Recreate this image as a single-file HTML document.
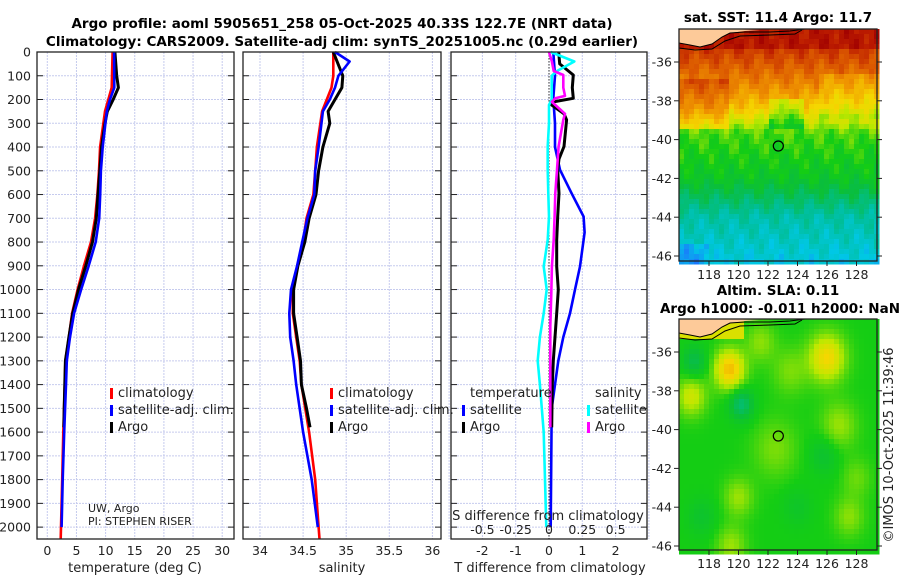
<!DOCTYPE html>
<html><head><meta charset="utf-8"><style>
html,body{margin:0;padding:0;background:#fff;}
svg{display:block;font-family:"DejaVu Sans","Liberation Sans",sans-serif;}
</style></head><body>
<svg id="fig" width="900" height="580" viewBox="0 0 900 580" xmlns="http://www.w3.org/2000/svg">
<g id="titles" font-weight="bold" font-size="13.5" text-anchor="middle">
<text x="342" y="28">Argo profile: aoml 5905651_258 05-Oct-2025 40.33S 122.7E (NRT data)</text>
<text x="342" y="46">Climatology: CARS2009. Satellite-adj clim: synTS_20251005.nc (0.29d earlier)</text>
<text x="778" y="22">sat. SST: 11.4 Argo: 11.7</text>
<text x="778" y="295">Altim. SLA: 0.11</text>
<text x="780" y="313">Argo h1000: -0.011 h2000: NaN</text>
</g>
<g id="grids"></g>
<g id="maps"></g>
<g id="series"></g>
<g id="frames"></g>
<g id="labels" font-size="12.5" fill="#222"></g>
<g font-size="13" fill="#222" text-anchor="middle">
<text x="135" y="572">temperature (deg C)</text>
<text x="342" y="572">salinity</text>
<text x="550" y="572">T difference from climatology</text>
<text x="548" y="520">S difference from climatology</text>
</g>
<g font-size="11" fill="#222">
<text x="88" y="512">UW, Argo</text>
<text x="88" y="525">PI: STEPHEN RISER</text>
</g>
<text transform="translate(893,445) rotate(-90)" text-anchor="middle" font-size="13" fill="#222">©IMOS 10-Oct-2025 11:39:46</text>
</svg>
<script>
// ---------- data ----------
const depthTicks = [0,100,200,300,400,500,600,700,800,900,1000,1100,1200,1300,1400,1500,1600,1700,1800,1900,2000];
const tempTicks = [0,5,10,15,20,25,30];
const salTicks = [34,34.5,35,35.5,36];
const salTickLabels = ["34","34.5","35","35.5","36"];
const tdiffTicks = [-2,-1,0,1,2];
const sdiffTicks = [-0.5,-0.25,0,0.25,0.5];
const sdiffTickLabels = ["-0.5","-0.25","0","0.25","0.5"];

const climDepth = [0,100,150,250,400,500,600,700,800,900,1000,1100,1200,1300,1400,1600,1800,2000,2050];
const climTemp  = [11.2,11.1,11.05,9.9,9.05,8.87,8.6,8.2,7.5,6.3,5.2,4.25,3.7,3.1,3.0,2.75,2.55,2.35,2.3];
const satTDepth = [0,150,200,250,400,500,600,700,800,900,1000,1100,1200,1300,1400,1600,1800,2000];
const satTemp   = [11.45,11.5,10.75,10.2,9.5,9.2,9.07,8.9,8.3,7.1,5.8,4.6,3.9,3.35,3.2,2.9,2.65,2.45];
const argoTDepth = [0,100,150,200,250,300,400,500,600,700,800,900,1000,1100,1200,1300,1400,1500,1580];
const argoTemp   = [11.6,11.9,12.2,11.3,10.3,9.9,9.3,9.0,8.7,8.4,7.75,6.6,5.35,4.35,3.7,3.1,3.0,2.9,2.85];

const climSDepth = [0,100,150,250,400,500,600,700,800,900,1000,1100,1200,1300,1400,1600,1800,2000,2050];
const climSal    = [34.85,34.85,34.83,34.72,34.66,34.64,34.62,34.54,34.5,34.44,34.38,34.38,34.42,34.46,34.48,34.57,34.64,34.68,34.69];
const satSDepth  = [0,40,100,150,200,250,400,500,600,700,800,900,1000,1100,1200,1300,1400,1600,1800,2000];
const satSal     = [34.87,35.04,34.91,34.87,34.81,34.73,34.68,34.64,34.63,34.55,34.49,34.43,34.36,34.34,34.35,34.39,34.42,34.5,34.6,34.67];
const argoSDepth = [0,100,150,200,250,300,400,500,600,700,800,900,1000,1100,1200,1300,1400,1500,1580];
const argoSal    = [34.85,34.96,34.95,34.87,34.79,34.81,34.73,34.68,34.65,34.57,34.52,34.44,34.39,34.39,34.43,34.47,34.48,34.54,34.58];

const satTdDepth = [0,100,195,300,400,496,595,693,760,903,1000,1100,1200,1300,1400,1500,2000];
const satTdiff   = [0.13,0.18,0.13,0.18,0.18,0.33,0.68,1.04,1.07,0.93,0.78,0.63,0.43,0.28,0.18,0.08,0.05];
const argoTdDepth = [0,50,97,150,195,210,223,260,286,398,450,496,595,693,791,903,1000,1100,1200,1300,1400,1580];
const argoTdiff   = [0.29,0.32,0.73,0.7,0.73,0.13,0.08,0.45,0.53,0.45,0.3,0.26,0.3,0.26,0.23,0.23,0.28,0.23,0.18,0.13,0.1,0.08];
const satSdDepth = [0,40,80,100,200,223,300,398,496,595,693,791,903,1000,1100,1200,1300,1400,1600,2000];
const satSdiff   = [0.012,0.19,0.06,0.02,0.02,0,0,-0.01,-0.01,-0.005,0,-0.01,-0.04,-0.017,-0.04,-0.068,-0.085,-0.068,-0.04,-0.02];
const argoSdDepth = [0,40,80,97,150,185,195,210,223,260,286,398,496,595,693,791,903,1015,1156,1300,1580];
const argoSdiff   = [0,0.022,0.035,0.107,0.107,0.12,0.047,0.022,0.047,0.12,0.107,0.072,0.06,0.047,0.042,0.035,0.022,0.017,0.01,0.01,0.01];

const argoLat = -40.33, argoLon = 122.7;
const mapLonTicks = [118,120,122,124,126,128];
const mapLatTicks = [-36,-38,-40,-42,-44,-46];

// ---------- axes ----------
const TOP=52, BOT=539;
const yD = d => TOP + d*(BOT-TOP)/2050;
const xT = t => 47.3 + t*5.83;
const xS = s => 260 + (s-34)*86.2;
const xTd = t => 549 + t*33.3;
const xSd = s => 549 + s*133.2;
const panels = [{x0:37,x1:234,name:'temperature'},{x0:243,x1:441,name:'salinity'},{x0:451,x1:647,name:'difference'}];

const NS='http://www.w3.org/2000/svg';
function mk(tag, parent, attrs){const e=document.createElementNS(NS,tag);for(const k in attrs)e.setAttribute(k,attrs[k]);parent.appendChild(e);return e;}
const grids=document.getElementById('grids'), series=document.getElementById('series'), frames=document.getElementById('frames'), labels=document.getElementById('labels'), maps=document.getElementById('maps');

panels.forEach(p=>{
  depthTicks.forEach(d=>{
    const l=mk('line',grids,{x1:p.x0,x2:p.x1,y1:yD(d),y2:yD(d),stroke:'#c6cbee','stroke-width':1,'stroke-dasharray':'2,1'});
    
    
  });
});
function vgrid(xs){xs.forEach(x=>{const l=mk('line',grids,{x1:x,x2:x,y1:TOP,y2:BOT,stroke:'#c6cbee','stroke-width':1,'stroke-dasharray':'2,1'});
  
  });}
vgrid(tempTicks.map(xT));
vgrid(salTicks.map(xS));
vgrid([-0.75,-0.5,-0.25,0,0.25,0.5,0.75].map(xSd));

panels.forEach(p=>{
  const r=mk('rect',frames,{x:p.x0,y:TOP,width:p.x1-p.x0,height:BOT-TOP,fill:'none',stroke:'#222','stroke-width':1.3});
  
  
  depthTicks.forEach(d=>{
    mk('line',frames,{x1:p.x0,x2:p.x0+6,y1:yD(d),y2:yD(d),stroke:'#222'});
    mk('line',frames,{x1:p.x1-6,x2:p.x1,y1:yD(d),y2:yD(d),stroke:'#222'});
  });
});
depthTicks.forEach(d=>{
  const t=mk('text',labels,{x:31,y:yD(d)+4.5,'text-anchor':'end'});t.textContent=d;
  
  
});
tempTicks.forEach(v=>{const t=mk('text',labels,{x:xT(v),y:555,'text-anchor':'middle'});t.textContent=v;
  
  });
salTicks.forEach((v,i)=>{const t=mk('text',labels,{x:xS(v),y:555,'text-anchor':'middle'});t.textContent=salTickLabels[i];
  
  });
tdiffTicks.forEach(v=>{const t=mk('text',labels,{x:xTd(v),y:555,'text-anchor':'middle'});t.textContent=v;
  
  });
sdiffTicks.forEach((v,i)=>{const t=mk('text',labels,{x:xSd(v),y:534,'text-anchor':'middle'});t.textContent=sdiffTickLabels[i];
  
  });

const zl=mk('line',grids,{x1:xTd(0),x2:xTd(0),y1:TOP,y2:BOT,stroke:'#333','stroke-width':1,'stroke-dasharray':'1.5,1.5'});



function line(xs, ds, fx, color, w, name){
  const pts=xs.map((v,i)=>fx(v).toFixed(1)+','+yD(ds[i]).toFixed(1)).join(' ');
  const pl=mk('polyline',series,{points:pts,fill:'none',stroke:color,'stroke-width':w,'stroke-linejoin':'round'});
  
  
}
line(climTemp,climDepth,xT,'#f00',2.6,'temperature-climatology-line');
line(argoTemp,argoTDepth,xT,'#000',3,'temperature-argo-line');
line(satTemp,satTDepth,xT,'#00f',2.6,'temperature-satellite-line');
line(climSal,climSDepth,xS,'#f00',2.6,'salinity-climatology-line');
line(argoSal,argoSDepth,xS,'#000',3,'salinity-argo-line');
line(satSal,satSDepth,xS,'#00f',2.6,'salinity-satellite-line');
line(satTdiff,satTdDepth,xTd,'#00f',2.6,'t-diff-satellite-line');
line(argoTdiff,argoTdDepth,xTd,'#000',3,'t-diff-argo-line');
line(satSdiff,satSdDepth,xSd,'#0ff',2.6,'s-diff-satellite-line');
line(argoSdiff,argoSdDepth,xSd,'#f0f',2.6,'s-diff-argo-line');

function leg(x,y,color,txt,name){
  const g=mk('g',series,{});
  
  
  if(color) mk('rect',g,{x:x,y:y-9,width:3,height:11,fill:color});
  const t=mk('text',g,{x:x+8,y:y,'font-size':13,fill:'#222'});t.textContent=txt;
}
leg(110,397,'#f00','climatology','legend-t-climatology');
leg(110,414,'#00f','satellite-adj. clim.','legend-t-satellite');
leg(110,431,'#000','Argo','legend-t-argo');
leg(330,397,'#f00','climatology','legend-s-climatology');
leg(330,414,'#00f','satellite-adj. clim.','legend-s-satellite');
leg(330,431,'#000','Argo','legend-s-argo');
leg(462,397,null,'temperature','legend-diff-temperature-header');
leg(462,414,'#00f','satellite','legend-diff-t-satellite');
leg(462,431,'#000','Argo','legend-diff-t-argo');
leg(587,397,null,'salinity','legend-diff-salinity-header');
leg(587,414,'#0ff','satellite','legend-diff-s-satellite');
leg(587,431,'#f0f','Argo','legend-diff-s-argo');

// ---------- maps ----------
function makeMap(y0,y1,lat36y,name,colorFn){
  const x0=679,x1=877;
  const ppd=19.4, lpx=14.75;
  const lonX = lon => 709 + (lon-118)*lpx;
  const latY = lat => lat36y + (-36-lat)*ppd;
  const g=mk('g',maps,{});
  
  
  const cs=5;
  for(let y=y0;y<y1;y+=cs){for(let x=x0;x<x1;x+=cs){
    const lon=118+(x+cs/2-709)/lpx, lat=-36-(y+cs/2-lat36y)/ppd;
    mk('rect',g,{x:x,y:y,width:cs+0.5,height:cs+0.5,fill:colorFn(lon,lat)});
  }}
  mk('path',g,{d:`M${x0},${y0} L${x0},${y0+14} L690,${y0+16} L700,${y0+18} L712,${y0+15} L722,${y0+8} L730,${y0+4} L745,${y0+2} L760,${y0+1} L${x0+45},${y0} Z`,fill:'#fdca99'});
  mk('path',g,{d:`M${x0},${y0+14} L690,${y0+16} L700,${y0+18} L712,${y0+15} L722,${y0+8} L730,${y0+4} L745,${y0+3} L770,${y0+3} L790,${y0+2} L805,${y0}`,fill:'none',stroke:'#000','stroke-width':1});
  mk('path',g,{d:`M${x0},${y0+19} L695,${y0+21} L712,${y0+20} L725,${y0+12} L740,${y0+7} L770,${y0+6} L795,${y0+5} L802,${y0+1}`,fill:'none',stroke:'#000','stroke-width':1});
  const c=mk('circle',g,{cx:lonX(argoLon),cy:latY(argoLat),r:5,fill:'none',stroke:'#000','stroke-width':1.2});
  
  
  mk('rect',g,{x:x0,y:y0,width:x1-x0,height:y1-y0,fill:'none',stroke:'#222','stroke-width':1.3});
  mapLatTicks.forEach(l=>{
    const y=latY(l);
    mk('line',g,{x1:x0-5,x2:x0,y1:y,y2:y,stroke:'#222'});
    mk('line',g,{x1:x1,x2:x1+5,y1:y,y2:y,stroke:'#222'});
    const t=mk('text',g,{x:x0-7,y:y+4.5,'text-anchor':'end','font-size':12.5,fill:'#222'});t.textContent=l;
    
    
  });
  mapLonTicks.forEach(l=>{
    const x=lonX(l);
    mk('line',g,{x1:x,x2:x,y1:y1,y2:y1+5,stroke:'#222'});
    const t=mk('text',g,{x:x,y:y1+18,'text-anchor':'middle','font-size':12.5,fill:'#222'});t.textContent=l;
    
    
  });
  return {lonX,latY};
}
const stops=[[0.08,[30,110,255]],[0.18,[0,200,230]],[0.28,[0,190,150]],[0.38,[10,190,60]],[0.46,[20,205,20]],[0.56,[190,232,0]],[0.64,[245,215,0]],[0.74,[240,150,0]],[0.84,[220,90,0]],[0.93,[190,30,0]],[1.0,[160,0,0]]];
function cmap(v){
  v=Math.max(0.08,Math.min(1,v));
  for(let i=1;i<stops.length;i++){if(v<=stops[i][0]){const a=stops[i-1],b=stops[i],t=(v-a[0])/(b[0]-a[0]);
    return 'rgb('+a[1].map((c,k)=>Math.round(c+(b[1][k]-c)*t)).join(',')+')';}}
  return 'rgb(160,0,0)';
}
function sstFn(lon,lat){
  let v;
  if(lat>-35.3) v=0.95; else if(lat>-37) v=0.78+(lat+37)*0.07; else if(lat>-38.5) v=0.66+(lat+38.5)*0.08;
  else if(lat>-39.6) v=0.5+(lat+39.6)*0.14; else if(lat>-42) v=0.42+(lat+42)*0.03; else if(lat>-44) v=0.26+(lat+44)*0.08; else v=0.2+(lat+46)*0.03;
  if(lon<119.5 && lat<-37 && lat>-39.5) v+=0.08;
  if(lon>122 && lon<124.5 && lat<-38 && lat>-39.5) v-=0.1;
  if(lon>125.5 && lat<-36.5 && lat>-39) v-=0.05;
  if(lon<118 && lat<-45.3) v-=0.06;
  v+=0.025*Math.sin(lon*3.1+lat*2.3)+0.02*Math.cos(lon*5.7-lat*4.1);
  return cmap(v);
}
makeMap(29,261,62,'sst-map',sstFn);
function slaFn(lon,lat){
  let v=0.46;
  const blobs=[[119.4,-36.9,0.22,1.0],[126,-36.3,0.18,1.2],[116.8,-38.3,0.12,1.0],[120.2,-38.7,-0.14,0.8],[117,-36.5,-0.1,0.8],[125.8,-41.3,-0.06,1],[126.8,-39.8,0.08,1.2],[122.5,-41,0.06,1.5],[120,-43.5,0.08,1],[127.5,-44.5,0.07,1],[119.5,-46,0.08,1],[117.5,-44.5,-0.05,1],[124,-44,-0.04,1],[128,-42.5,0.05,1],[123.5,-37,0.06,1.2],[121.5,-35.5,0.07,1]];
  blobs.forEach(b=>{const d2=((lon-b[0])**2+(lat-b[1])**2)/(b[3]*b[3]);v+=b[2]*Math.exp(-d2);});
  if(lat>-35.3 && lon<120.5) v=0.6;
  return cmap(v);
}
makeMap(319,550,352,'sla-map',slaFn);
</script>
</body></html>
